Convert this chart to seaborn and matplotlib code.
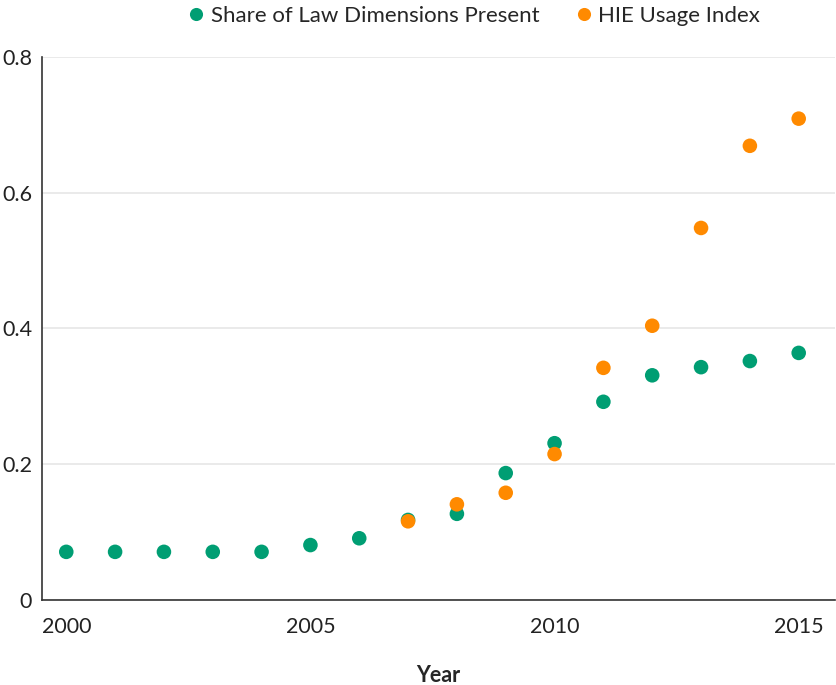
import pandas as pd
import numpy as np
from matplotlib import pyplot as plt
import seaborn as sns

# values
years_law = list(range(2000, 2016))
law_share = [0.071, 0.071, 0.071, 0.071, 0.071, 0.081, 0.091, 0.118,
             0.127, 0.187, 0.231, 0.292, 0.331, 0.343, 0.352, 0.364]
years_hie = list(range(2007, 2016))
hie_index = [0.116, 0.141, 0.158, 0.215, 0.342, 0.404, 0.548, 0.669, 0.709]

series_names = ['Share of Law Dimensions Present', 'HIE Usage Index']
colors = ['#009E73', '#FF8A00']
ytick_vals = [0, 0.2, 0.4, 0.6, 0.8]
ytick_labels = ['0', '0.2', '0.4', '0.6', '0.8']
xtick_vals = [2000, 2005, 2010, 2015]

# long format table for seaborn
df = pd.concat([
    pd.DataFrame({'Year': years_law, 'value': law_share, 'series': series_names[0]}),
    pd.DataFrame({'Year': years_hie, 'value': hie_index, 'series': series_names[1]}),
], ignore_index=True)

sns.set_style('white')
plt.rcParams['font.family'] = ['Lato', 'DejaVu Sans']

fig = plt.figure(figsize=(8.37, 6.85), dpi=100)
ax = fig.add_axes([0.050, 0.124, 0.948, 0.793])

sns.scatterplot(data=df, x='Year', y='value', hue='series', hue_order=series_names,
                palette=colors, s=110, edgecolor='none', ax=ax, zorder=3)

ax.set_xlim(1999.5, 2015.75)
ax.set_ylim(0, 0.8)
ax.set_yticks(ytick_vals)
ax.set_yticklabels(ytick_labels)
ax.set_xticks(xtick_vals)
ax.yaxis.grid(True, color='#e6e6e6', linewidth=1.2)
ax.set_axisbelow(True)
for s in ['top', 'right']:
    ax.spines[s].set_visible(False)
for s in ['left', 'bottom']:
    ax.spines[s].set_color('#333333')
    ax.spines[s].set_linewidth(1.2)
ax.tick_params(axis='y', length=0, labelsize=15.5, colors='#222222', pad=7)
ax.tick_params(axis='x', length=6, width=1, colors='#555555', labelsize=15.5,
               labelcolor='#222222', direction='out', pad=6)
ax.set_xlabel('Year', fontsize=15.5, fontweight='bold', labelpad=20)
ax.set_ylabel('')

ax.legend(loc='lower center', bbox_to_anchor=(0.536, 1.02), ncol=2, frameon=False,
          fontsize=16, handletextpad=-0.35, columnspacing=1.0, markerscale=0.9)

plt.savefig('out.png', dpi=100)
